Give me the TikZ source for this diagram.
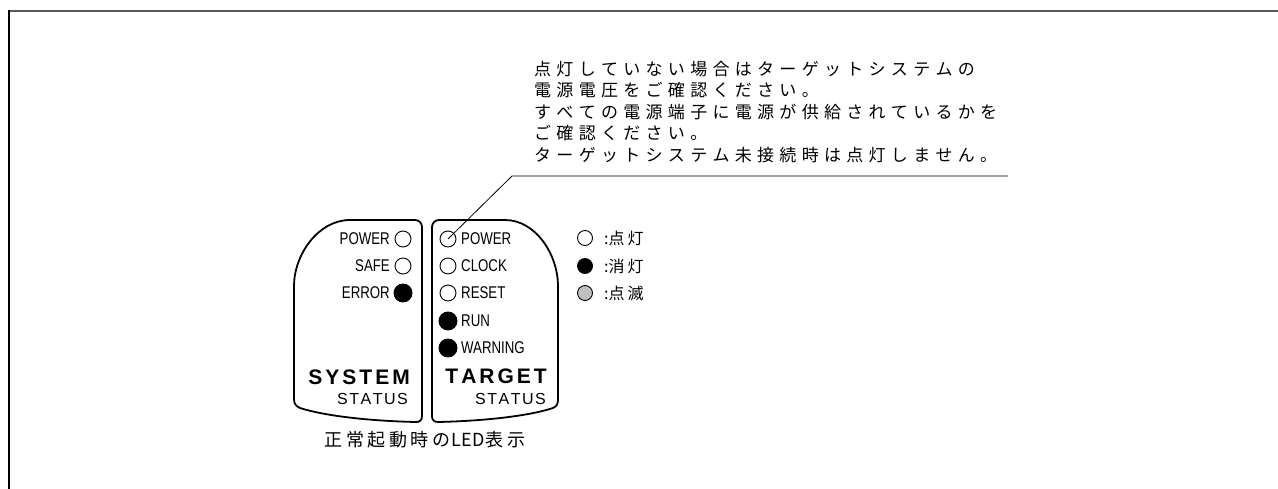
\documentclass[tikz,border=0pt]{standalone}
\usepackage{fontspec}
\setmainfont{Liberation Sans}
\newfontfamily\jp{Noto Sans CJK JP}
\newfontfamily\narrow[FakeStretch=0.78]{Liberation Sans}
\makeatletter
\newcommand\spaced[2]{\def\spc@amt{#1}\let\spc@first\relax\@tfor\spc@c:=#2\do{\spc@first\spc@c\def\spc@first{\hskip\spc@amt}}}
\makeatother
\definecolor{framegray}{HTML}{5A5A5A}
\definecolor{blinkgray}{HTML}{C0C0C0}
\tikzset{
  panel/.style={draw=black, line width=1.8pt, line join=round},
  led/.style={circle, draw=black, line width=0.9pt, minimum size=16pt, inner sep=0pt},
  ledon/.style={led, fill=black, minimum size=18pt},
  legled/.style={circle, draw=black, line width=0.9pt, minimum size=15pt, inner sep=0pt},
  lbl/.style={inner sep=0pt, font=\narrow\fontsize{17}{19}\selectfont},
  jptext/.style={inner sep=0pt, font=\jp\fontsize{17}{19}\selectfont},
  leader/.style={draw=black, line width=0.8pt},
}
\begin{document}
\begin{tikzpicture}[x=1pt,y=-1pt]
\useasboundingbox (0,0) rectangle (1278,489);
\fill[white] (0,0) rectangle (1278,489);
% frame
\draw[framegray, line width=2.5pt] (9,11) -- (1278,11);
\draw[black, line width=1.5pt] (9,10) -- (9,489);

% SYSTEM panel
\draw[panel] (350,220) -- (415,220) .. controls (419,220) and (422,223) .. (422,227)
  -- (422,416) .. controls (422,420) and (420,422) .. (416,422)
  .. controls (370,421) and (325,416) .. (300,408)
  .. controls (296,406) and (294,404) .. (294,399)
  -- (294,286) .. controls (294,255) and (318,220) .. (350,220) -- cycle;
% TARGET panel
\draw[panel] (505,220) -- (439,220) .. controls (435,220) and (432,223) .. (432,227)
  -- (432,416) .. controls (432,420) and (434,422) .. (438,422)
  .. controls (484,421) and (529,416) .. (553,408)
  .. controls (557,406) and (558,404) .. (558,399)
  -- (558,286) .. controls (558,255) and (536,220) .. (505,220) -- cycle;

% SYSTEM LEDs
\node[led] (sp) at (403,239) {};
\node[led] (ss) at (403,266) {};
\node[ledon] (se) at (403,293) {};
\node[lbl, anchor=east] (spl) at (390,239) {POWER};
\node[lbl, anchor=east] (ssl) at (390,266) {SAFE};
\node[lbl, anchor=east] (sel) at (390,293) {ERROR};
\node[inner sep=0pt, anchor=east, font=\bfseries\fontsize{21}{24}\selectfont] (sys) at (410,377) {\spaced{3pt}{SYSTEM}};
\node[inner sep=0pt, anchor=east, font=\fontsize{16}{18}\selectfont] (sst) at (408,399) {\spaced{1.5pt}{STATUS}};

% TARGET LEDs
\node[led] (tp) at (448,239) {};
\node[led] (tc) at (448,266) {};
\node[led] (tr) at (448,293) {};
\node[ledon] (tu) at (448,321) {};
\node[ledon] (tw) at (448,348) {};
\node[lbl, anchor=west] (tpl) at (461,239) {POWER};
\node[lbl, anchor=west] (tcl) at (461,266) {CLOCK};
\node[lbl, anchor=west] (trl) at (461,293) {RESET};
\node[lbl, anchor=west] (tul) at (461,321) {RUN};
\node[lbl, anchor=west] (twl) at (461,348) {WARNING};
\node[inner sep=0pt, anchor=east, font=\bfseries\fontsize{21}{24}\selectfont] (tgt) at (547,376) {\spaced{3pt}{TARGET}};
\node[inner sep=0pt, anchor=east, font=\fontsize{16}{18}\selectfont] (tst) at (546,399) {\spaced{1.5pt}{STATUS}};

% caption
\node[inner sep=0pt, font=\jp\fontsize{18}{20}\selectfont] (cap) at (425,440) {\spaced{3.5pt}{正常起動時の}\hskip1.5pt LED\hskip1pt\spaced{3.5pt}{表示}};

% legend
\node[legled] (l1) at (585,238) {};
\node[legled, fill=black] (l2) at (585,266) {};
\node[legled, fill=blinkgray] (l3) at (585,293) {};
\node[inner sep=0pt, anchor=west, font=\jp\fontsize{16}{18}\selectfont] (l1t) at (604,238) {:点\hskip3pt 灯};
\node[inner sep=0pt, anchor=west, font=\jp\fontsize{16}{18}\selectfont] (l2t) at (604,266) {:消\hskip3pt 灯};
\node[inner sep=0pt, anchor=west, font=\jp\fontsize{16}{18}\selectfont] (l3t) at (604,293) {:点\hskip3pt 滅};

% callout text
\node[jptext, anchor=west] (c1) at (534,69) {\spaced{5.3pt}{点灯していない場合はターゲットシステムの}};
\node[jptext, anchor=west] (c2) at (534,90.5) {\spaced{5.3pt}{電源電圧をご確認ください。}};
\node[jptext, anchor=west] (c3) at (534,112) {\spaced{5.3pt}{すべての電源端子に電源が供給されているかを}};
\node[jptext, anchor=west] (c4) at (534,133.5) {\spaced{5.3pt}{ご確認ください。}};
\node[jptext, anchor=west] (c5) at (534,155) {\spaced{5.3pt}{ターゲットシステム未接続時は点灯しません。}};

% leader
\coordinate (lk) at (512,176);
\coordinate (le) at (1008,176);
\draw[leader] (tp.center) -- (lk) -- (le);
\end{tikzpicture}
\end{document}
